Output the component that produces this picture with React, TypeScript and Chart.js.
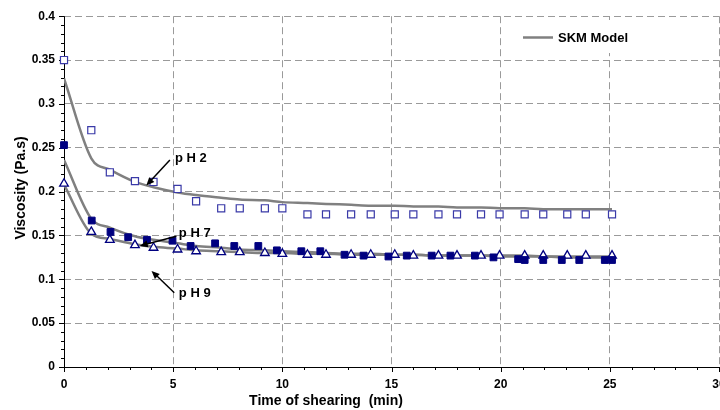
import React, { useEffect, useRef } from 'react';
import { Chart, registerables } from 'chart.js';

Chart.register(...registerables);

// ---- data ----
const sampleTimes = [0, 1.25, 2.1, 3.25, 4.1, 5.2, 6.05, 7.2, 8.05, 9.2, 10.0, 11.15, 12.0, 13.15, 14.05, 15.15, 16.0, 17.15, 18.0, 19.1, 19.95, 21.1, 21.95, 23.05, 23.9, 25.1];

const ph2Values = [0.35, 0.27, 0.222, 0.212, 0.211, 0.203, 0.189, 0.181, 0.181, 0.181, 0.181, 0.174, 0.174, 0.174, 0.174, 0.174, 0.174, 0.174, 0.174, 0.174, 0.174, 0.174, 0.174, 0.174, 0.174, 0.174];

const ph9Values = [0.209, 0.154, 0.145, 0.139, 0.136, 0.134, 0.132, 0.131, 0.131, 0.130, 0.129, 0.128, 0.128, 0.128, 0.128, 0.128, 0.127, 0.127, 0.127, 0.127, 0.127, 0.127, 0.127, 0.127, 0.127, 0.127];

const ph7Times = [0, 1.27, 2.13, 2.94, 3.8, 4.97, 5.8, 6.92, 7.8, 8.9, 9.75, 10.87, 11.74, 12.85, 13.72, 14.86, 15.7, 16.84, 17.7, 18.82, 19.67, 20.8, 21.1, 21.95, 22.8, 23.6, 24.77, 25.1];
const ph7Values = [0.253, 0.167, 0.154, 0.148, 0.145, 0.144, 0.138, 0.141, 0.138, 0.138, 0.133, 0.132, 0.132, 0.128, 0.127, 0.126, 0.127, 0.127, 0.127, 0.127, 0.125, 0.123, 0.122, 0.122, 0.122, 0.122, 0.122, 0.122];

const modelPh2 = [0.329, 0.238, 0.225, 0.211, 0.205, 0.199, 0.196, 0.193, 0.191, 0.190, 0.188, 0.187, 0.186, 0.185, 0.184, 0.184, 0.183, 0.183, 0.182, 0.182, 0.181, 0.181, 0.180, 0.180, 0.180, 0.180];
const modelPh7 = [0.236, 0.169, 0.159, 0.149, 0.145, 0.141, 0.138, 0.136, 0.134, 0.133, 0.132, 0.131, 0.130, 0.129, 0.129, 0.128, 0.128, 0.127, 0.127, 0.127, 0.126, 0.126, 0.126, 0.125, 0.125, 0.125];
const modelPh9 = [0.208, 0.152, 0.146, 0.140, 0.137, 0.135, 0.133, 0.132, 0.131, 0.130, 0.130, 0.129, 0.129, 0.128, 0.128, 0.128, 0.128, 0.127, 0.127, 0.127, 0.127, 0.127, 0.126, 0.126, 0.126, 0.126];

const xTickValues = [0, 5, 10, 15, 20, 25, 30];
const yTickValues = [0, 0.05, 0.1, 0.15, 0.2, 0.25, 0.3, 0.35, 0.4];

const seriesLabels = ['pH 2', 'pH 7', 'pH 9'];
const legendLabel = 'SKM Model';
const xTitle = 'Time of shearing  (min)';
const yTitle = 'Viscosity (Pa.s)';

// annotation labels with arrows, in data coordinates [time, viscosity]
const annotationLabels = ['p H 2', 'p H 7', 'p H 9'];
const annotationText = [[5.08, 0.2376], [5.26, 0.1525], [5.26, 0.0836]];
const annotationFrom = [[4.85, 0.236], [5.15, 0.149], [5.05, 0.0847]];
const annotationTo = [[3.77, 0.207], [3.47, 0.138], [4.01, 0.1096]];

const FONT = "'Liberation Sans', Arial, sans-serif";

const zip = (xs: number[], ys: number[]) => xs.map((x, i) => ({ x, y: ys[i] }));

const decorPlugin = {
  id: 'decor',
  beforeDatasetsDraw(chart: any) {
    const { ctx, chartArea, scales } = chart;
    const xs = scales.x;
    const ys = scales.y;
    ctx.save();
    ctx.strokeStyle = '#000';
    ctx.lineWidth = 1;
    ctx.setLineDash([]);
    // axes
    ctx.beginPath();
    ctx.moveTo(chartArea.left + 0.5, chartArea.top);
    ctx.lineTo(chartArea.left + 0.5, chartArea.bottom + 0.5);
    ctx.lineTo(chartArea.right + 40, chartArea.bottom + 0.5);
    ctx.stroke();
    // y ticks
    ctx.beginPath();
    for (let i = 0; i <= 40; i++) {
      const v = i / 100;
      const py = Math.round(ys.getPixelForValue(v)) + 0.5;
      const len = i % 5 === 0 ? 5 : 3;
      ctx.moveTo(chartArea.left - len, py);
      ctx.lineTo(chartArea.left, py);
    }
    // x ticks
    for (let i = 0; i <= 30; i++) {
      const px = Math.round(xs.getPixelForValue(i)) + 0.5;
      const len = i % 5 === 0 ? 5 : 3;
      ctx.moveTo(px, chartArea.bottom);
      ctx.lineTo(px, chartArea.bottom + len);
    }
    ctx.stroke();
    ctx.restore();
  },
  afterDraw(chart: any) {
    const { ctx, scales } = chart;
    const xs = scales.x;
    const ys = scales.y;
    ctx.save();
    // legend
    ctx.fillStyle = '#fff';
    ctx.fillRect(506, 20, 206, 33);
    ctx.strokeStyle = '#808080';
    ctx.lineWidth = 2.5;
    ctx.beginPath();
    ctx.moveTo(523, 37.5);
    ctx.lineTo(553, 37.5);
    ctx.stroke();
    ctx.fillStyle = '#000';
    ctx.font = `bold 13px ${FONT}`;
    ctx.textAlign = 'left';
    ctx.textBaseline = 'middle';
    ctx.fillText(legendLabel, 558, 38);

    // annotations
    annotationLabels.forEach((lab, i) => {
      const tx = xs.getPixelForValue(annotationText[i][0]);
      const ty = ys.getPixelForValue(annotationText[i][1]);
      ctx.fillStyle = '#000';
      ctx.font = `bold 13px ${FONT}`;
      ctx.textAlign = 'left';
      ctx.textBaseline = 'middle';
      ctx.fillText(lab, tx, ty);
      const x1 = xs.getPixelForValue(annotationFrom[i][0]);
      const y1 = ys.getPixelForValue(annotationFrom[i][1]);
      const x2 = xs.getPixelForValue(annotationTo[i][0]);
      const y2 = ys.getPixelForValue(annotationTo[i][1]);
      const ang = Math.atan2(y2 - y1, x2 - x1);
      const hl = 8;
      const hw = 3.5;
      ctx.strokeStyle = '#000';
      ctx.lineWidth = 1.5;
      ctx.beginPath();
      ctx.moveTo(x1, y1);
      ctx.lineTo(x2 - Math.cos(ang) * hl * 0.8, y2 - Math.sin(ang) * hl * 0.8);
      ctx.stroke();
      ctx.beginPath();
      ctx.moveTo(x2, y2);
      ctx.lineTo(x2 - Math.cos(ang) * hl - Math.sin(ang) * hw, y2 - Math.sin(ang) * hl + Math.cos(ang) * hw);
      ctx.lineTo(x2 - Math.cos(ang) * hl + Math.sin(ang) * hw, y2 - Math.sin(ang) * hl - Math.cos(ang) * hw);
      ctx.closePath();
      ctx.fill();
    });

    // axis titles
    ctx.fillStyle = '#000';
    ctx.font = `bold 14px ${FONT}`;
    ctx.textAlign = 'center';
    ctx.textBaseline = 'middle';
    ctx.fillText(xTitle, 326, 401);
    ctx.translate(21, 188);
    ctx.rotate(-Math.PI / 2);
    ctx.fillText(yTitle, 0, 0);
    ctx.restore();
  },
};

export default function App() {
  const canvasRef = useRef<HTMLCanvasElement | null>(null);

  useEffect(() => {
    const canvas = canvasRef.current;
    if (!canvas) return;
    const chart = new Chart(canvas, {
      type: 'scatter',
      data: {
        datasets: [
          {
            label: seriesLabels[0],
            data: zip(sampleTimes, ph2Values),
            showLine: false,
            pointStyle: 'rect',
            pointRadius: 5,
            pointBorderWidth: 1.2,
            pointBorderColor: '#3a3aa8',
            pointBackgroundColor: '#ffffff',
            order: 1,
            clip: false,
          },
          {
            label: seriesLabels[1],
            data: zip(ph7Times, ph7Values),
            showLine: false,
            pointStyle: 'rect',
            pointRadius: 4.8,
            pointBorderWidth: 1,
            pointBorderColor: '#000080',
            pointBackgroundColor: '#000080',
            order: 1,
            clip: false,
          },
          {
            label: seriesLabels[2],
            data: zip(sampleTimes, ph9Values),
            showLine: false,
            pointStyle: 'triangle',
            pointRadius: 5,
            pointBorderWidth: 1.3,
            pointBorderColor: '#000080',
            pointBackgroundColor: '#ffffff',
            order: 1,
            clip: false,
          },
          {
            label: legendLabel + ' ' + seriesLabels[0],
            data: zip(sampleTimes, modelPh2),
            showLine: true,
            borderColor: '#808080',
            borderWidth: 2.5,
            pointRadius: 0,
            cubicInterpolationMode: 'monotone',
            order: 2,
          },
          {
            label: legendLabel + ' ' + seriesLabels[1],
            data: zip(sampleTimes, modelPh7),
            showLine: true,
            borderColor: '#808080',
            borderWidth: 2.5,
            pointRadius: 0,
            cubicInterpolationMode: 'monotone',
            order: 2,
          },
          {
            label: legendLabel + ' ' + seriesLabels[2],
            data: zip(sampleTimes, modelPh9),
            showLine: true,
            borderColor: '#808080',
            borderWidth: 2.5,
            pointRadius: 0,
            cubicInterpolationMode: 'monotone',
            order: 2,
          },
        ],
      },
      options: {
        responsive: false,
        animation: false,
        devicePixelRatio: 1,
        layout: { padding: { left: 0, top: 13, right: 41, bottom: 0 } },
        plugins: {
          legend: { display: false },
          tooltip: { enabled: false },
          title: { display: false },
        },
        scales: {
          x: {
            type: 'linear',
            min: 0,
            max: 30,
            afterBuildTicks: (s: any) => {
              s.ticks = xTickValues.map((v) => ({ value: v }));
            },
            afterFit: (s: any) => {
              s.height = 43;
            },
            ticks: {
              color: '#000',
              font: { family: FONT, size: 12, weight: 'bold' },
              padding: 10,
              maxRotation: 0,
              autoSkip: false,
              callback: (v: any) => String(v),
            },
            grid: {
              color: (c: any) => (c.tick && c.tick.value === 0 ? 'rgba(0,0,0,0)' : '#9a9a9a'),
              lineWidth: 1,
              drawTicks: false,
            },
            border: { display: false, dash: [7, 4] },
          },
          y: {
            type: 'linear',
            min: 0,
            max: 0.4,
            afterBuildTicks: (s: any) => {
              s.ticks = yTickValues.map((v) => ({ value: v }));
            },
            afterFit: (s: any) => {
              s.width = 64;
            },
            ticks: {
              color: '#000',
              font: { family: FONT, size: 12, weight: 'bold' },
              padding: 9,
              autoSkip: false,
              callback: (v: any) => String(+Number(v).toFixed(2)),
            },
            grid: {
              color: (c: any) => (c.tick && c.tick.value === 0 ? 'rgba(0,0,0,0)' : '#9a9a9a'),
              lineWidth: 1,
              drawTicks: false,
            },
            border: { display: false, dash: [7, 4] },
          },
        },
      } as any,
      plugins: [decorPlugin],
    });
    return () => chart.destroy();
  }, []);

  return (
    <div style={{ position: 'absolute', left: 0, top: 0, width: 720, height: 410, overflow: 'hidden', background: '#fff' }}>
      <canvas ref={canvasRef} width={760} height={410} style={{ display: 'block' }} />
    </div>
  );
}
